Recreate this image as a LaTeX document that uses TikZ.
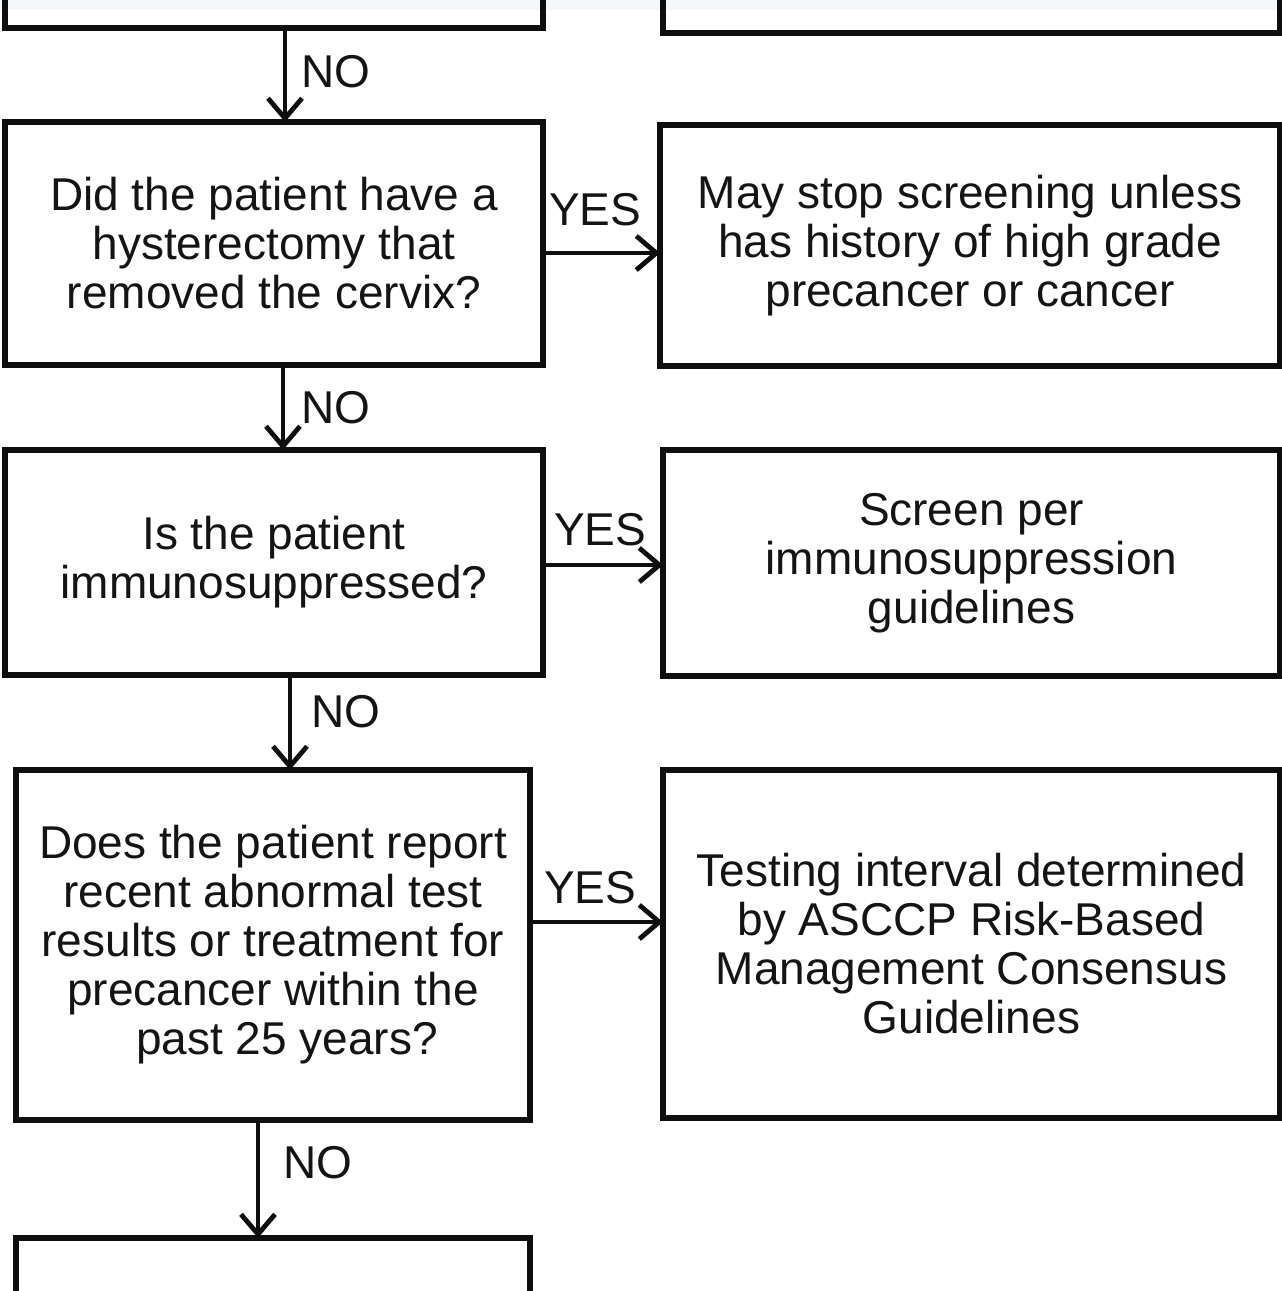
\documentclass[tikz,border=0pt]{standalone}
\usepackage{fontspec}
\setmainfont{Liberation Sans}
\usetikzlibrary{arrows.meta}
\definecolor{ink}{HTML}{0E0E0E}
\definecolor{txt}{HTML}{141414}
\definecolor{band}{HTML}{F4F8FA}
\begin{document}
\begin{tikzpicture}[x=1pt,y=-1pt,
  box/.style={draw=ink, line width=5.5pt, rectangle, inner sep=0pt, outer sep=0pt,
    align=center, font=\fontsize{46}{49}\selectfont, text=txt},
  arr/.style={draw=ink, line width=3.8pt, -{Straight Barb[length=20pt,width=34pt,line width=4.8pt]}},
  lab/.style={font=\fontsize{46}{49}\selectfont, inner sep=0pt, anchor=west, text=txt}]
\useasboundingbox (0,0) rectangle (1282,1291);
\clip (0,0) rectangle (1282,1291);
\fill[white] (0,0) rectangle (1282,1291);
\fill[band] (0,0) rectangle (1282,10);

% partial boxes at top
\node[box, minimum width=538pt, minimum height=76pt] (t1) at (274,-10) {};
\node[box, minimum width=617pt, minimum height=86pt] (t2) at (971.5,-10) {};

% row 1
\node[box, minimum width=538pt, minimum height=243pt] (b1) at (274,243.5)
  {Did the patient have a\\hysterectomy that\\removed the cervix?};
\node[box, minimum width=620pt, minimum height=241pt] (r1) at (970,245.5)
  {May stop screening unless\\has history of high grade\\precancer or cancer};

% row 2
\node[box, minimum width=538pt, minimum height=225pt] (b2) at (274,562.5)
  {Is the patient\\immunosuppressed?};
\node[box, minimum width=617pt, minimum height=226pt] (r2) at (971.5,563)
  {Screen per\\immunosuppression\\guidelines};

% row 3
\node[box, minimum width=514pt, minimum height=350pt] (b3) at (273,945)
  {Does the patient report\\recent abnormal test\\results or treatment for\\precancer within the\\\hspace*{28pt}past 25 years?};
\node[box, minimum width=617pt, minimum height=348pt] (r3) at (971.5,944)
  {Testing interval determined\\by ASCCP Risk-Based\\Management Consensus\\Guidelines};

% partial box at bottom
\node[box, minimum width=514pt, minimum height=104pt] (b4) at (273,1290) {};

% NO connectors
\draw[arr] ([xshift=11pt]t1.south) -- ([xshift=11pt]b1.north);
\draw[arr] ([xshift=9pt]b1.south) -- ([xshift=9pt]b2.north);
\draw[arr] ([xshift=16pt]b2.south) -- ([xshift=17pt]b3.north);
\draw[arr] ([xshift=-15pt]b3.south) -- ([xshift=-15pt]b4.north);

% YES connectors
\draw[arr] ([yshift=-9.5pt]b1.east) -- ([yshift=-7.5pt]r1.west);
\draw[arr] ([yshift=-2.5pt]b2.east) -- ([yshift=-2pt]r2.west);
\draw[arr] ([yshift=23pt]b3.east) -- ([yshift=22pt]r3.west);

% labels
\node[lab] (no1) at (301,72) {NO};
\node[lab] (no2) at (301,408) {NO};
\node[lab] (no3) at (311,712) {NO};
\node[lab] (no4) at (283,1163) {NO};
\node[lab] (yes1) at (549,210) {YES};
\node[lab] (yes2) at (554,530) {YES};
\node[lab] (yes3) at (544,888) {YES};
\end{tikzpicture}
\end{document}
